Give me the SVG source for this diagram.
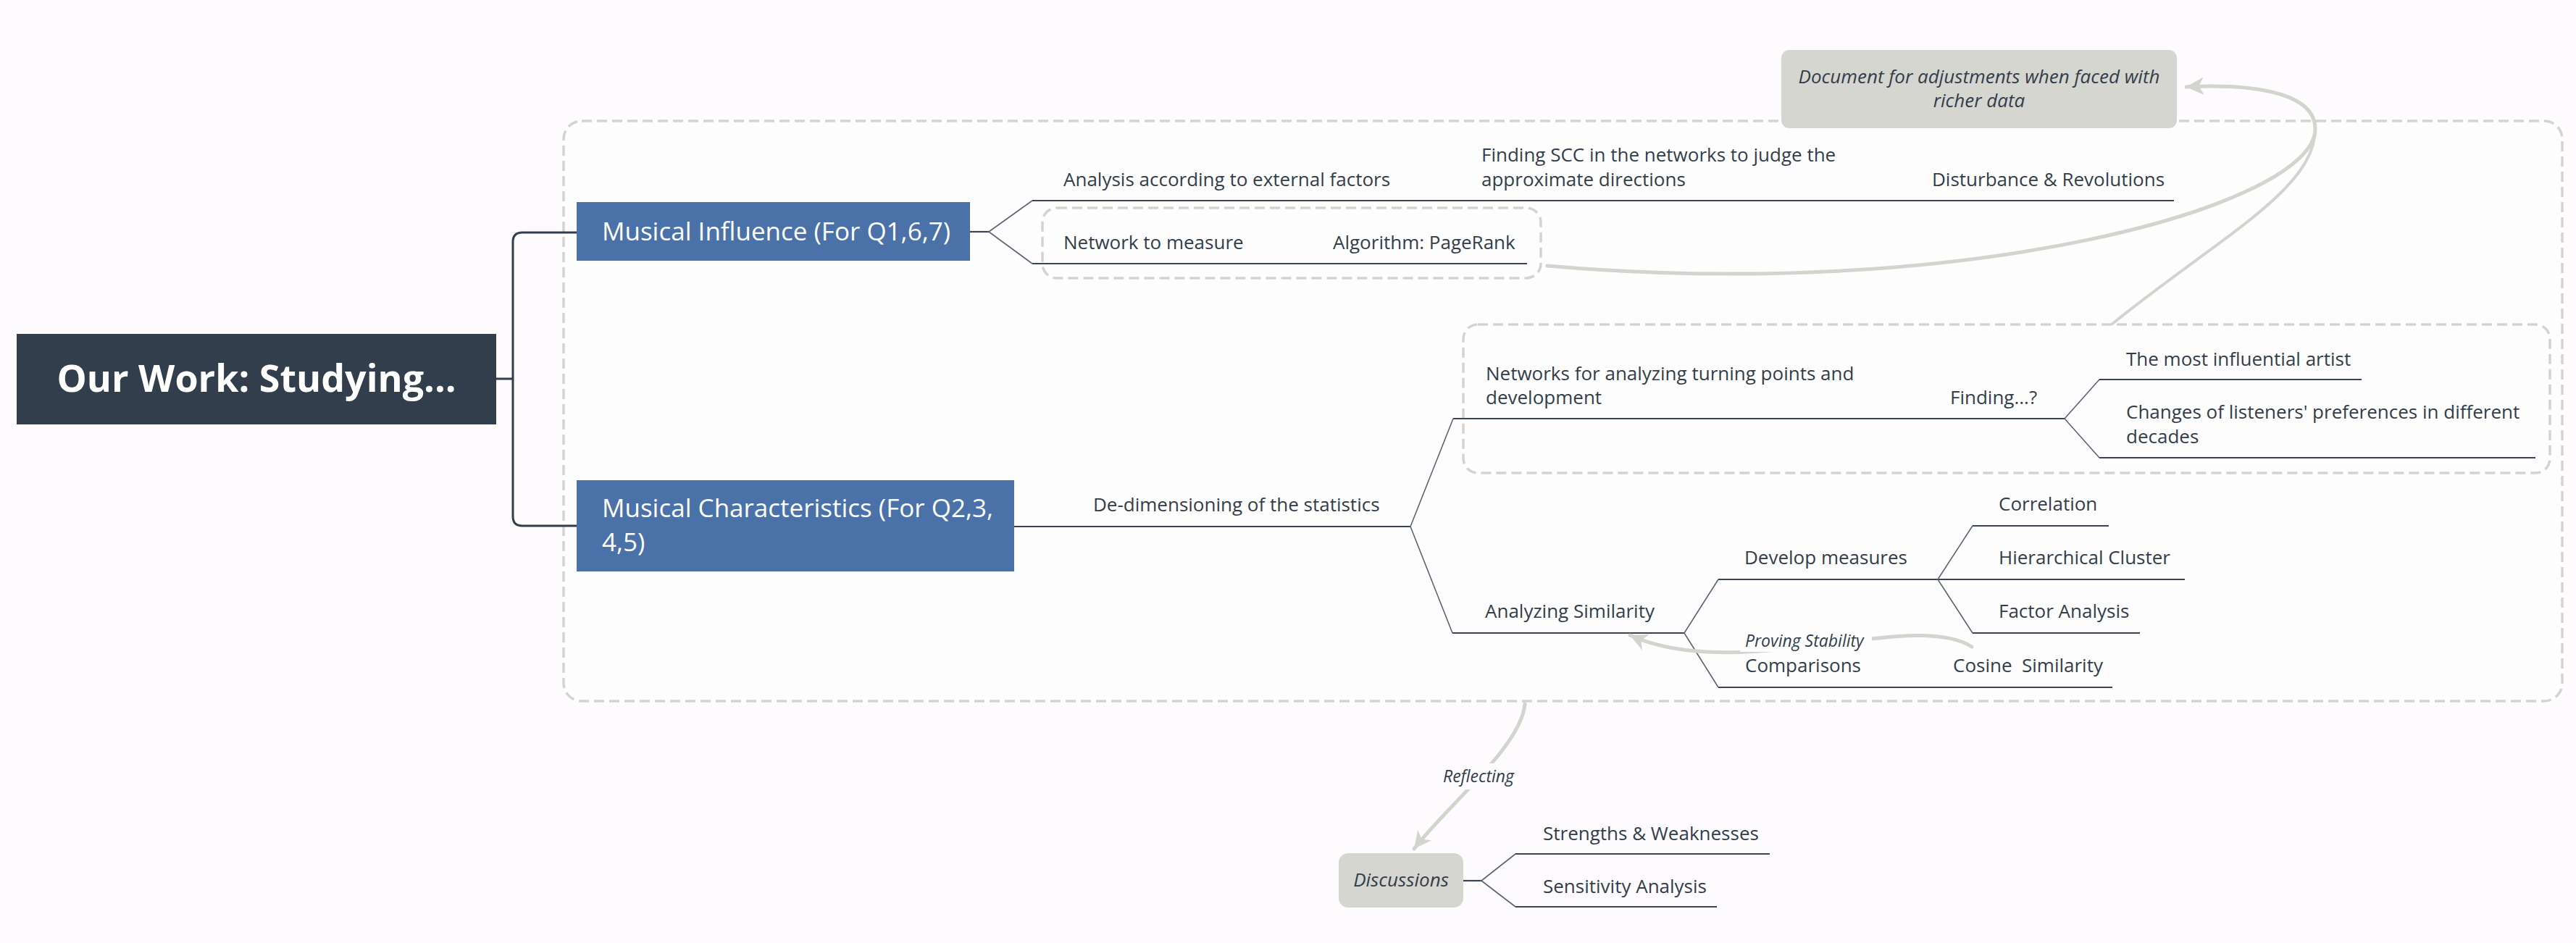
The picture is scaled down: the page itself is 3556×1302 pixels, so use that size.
<svg xmlns="http://www.w3.org/2000/svg" width="3556" height="1302" viewBox="0 0 3556 1302">
<style>
.t{font-family:"Open Sans","Noto Sans","Liberation Sans",sans-serif;font-size:26px;fill:#333d4b}
.it{font-style:italic}
.lbl{font-size:23px}
.w{fill:#ffffff;font-size:35px}
.root{fill:#ffffff;font-size:52px;font-weight:bold}
.ul{stroke:#3b4453;stroke-width:2.2;fill:none}
.br{stroke:#5d6573;stroke-width:1.6;fill:none}
.main{stroke:#333e4d;stroke-width:3;fill:none}
.bd{stroke:#d4d4cf;stroke-width:3.5;stroke-dasharray:14 7;fill:none}
.rel{stroke:#d4d4ce;stroke-width:5;fill:none;stroke-linecap:round}
.gray{fill:#d6d6d1}
</style>
<defs>
<marker id="arr" markerUnits="userSpaceOnUse" markerWidth="26" markerHeight="26" refX="24" refY="12" orient="auto" viewBox="0 0 26 24">
<path d="M0,0 L24,12 L0,24 L7,12 z" fill="#d4d4ce"/>
</marker>
<mask id="mProving" maskUnits="userSpaceOnUse" x="0" y="0" width="3556" height="1302">
<rect x="0" y="0" width="3556" height="1302" fill="#fff"/>
<rect x="2402" y="868" width="182" height="32" fill="#000"/>
</mask>
<mask id="mReflect" maskUnits="userSpaceOnUse" x="0" y="0" width="3556" height="1302">
<rect x="0" y="0" width="3556" height="1302" fill="#fff"/>
<rect x="1986" y="1054" width="112" height="36" fill="#000"/>
</mask>
</defs>
<rect x="0" y="0" width="3556" height="1302" fill="#fdfbfd"/>

<g id="boundaries">
<rect class="bd" x="778" y="167" width="2759" height="801" rx="25" style="fill:#fefdfe"/>
<rect class="bd" x="1439" y="287" width="688" height="97" rx="20"/>
<rect class="bd" x="2020" y="448" width="1500" height="205" rx="20"/>
</g>

<g id="connectors">
<path class="main" d="M685,523 H708 M796,321 H721 Q708,321 708,334 V713 Q708,726 721,726 H796"/>
<path class="ul" d="M1338,320 H1365"/>
<path class="br" d="M1365,320 L1425,277 M1365,320 L1425,364"/>
<path class="ul" d="M1425,277 H3001"/>
<path class="ul" d="M1425,364 H2108"/>
<path class="ul" d="M1399,727 H1947"/>
<path class="br" d="M1947,727 L2006,578 M1947,727 L2005,874"/>
<path class="ul" d="M2006,578 H2850"/>
<path class="br" d="M2850,578 L2898,524 M2850,578 L2898,632"/>
<path class="ul" d="M2898,524 H3260"/>
<path class="ul" d="M2898,632 H3500"/>
<path class="ul" d="M2005,874 H2325"/>
<path class="br" d="M2325,874 L2372,800 M2325,874 L2372,949"/>
<path class="ul" d="M2372,800 H3016"/>
<path class="br" d="M2675,800 L2723,726 M2675,800 L2723,874"/>
<path class="ul" d="M2723,726 H2911"/>
<path class="ul" d="M2723,874 H2954"/>
<path class="ul" d="M2372,949 H2916"/>
<path class="ul" d="M2020,1216 H2045"/>
<path class="br" d="M2045,1216 L2092,1179 M2045,1216 L2092,1252"/>
<path class="ul" d="M2092,1179 H2443"/>
<path class="ul" d="M2092,1252 H2370"/>
<path class="rel" d="M2136,367 C2720,418 3196,282 3196,178 C3196,122 3090,116 3018,120" marker-end="url(#arr)"/>
<path class="rel" style="stroke-width:4" d="M2916,447 C3060,330 3196,262 3196,178 C3196,122 3090,116 3018,120" marker-end="url(#arr)"/>
<path class="rel" mask="url(#mProving)" d="M2722,893 C2640,840 2400,945 2250,877" marker-end="url(#arr)"/>
<path class="rel" mask="url(#mReflect)" d="M2105,972 C2100,1030 2000,1110 1952,1172" marker-end="url(#arr)"/>
</g>

<g id="root">
<rect x="23" y="461" width="662" height="125" fill="#333e4d"/>
<text class="t root" x="354" y="541" text-anchor="middle">Our Work: Studying...</text>
</g>

<g id="musical-influence">
<rect x="796" y="279" width="543" height="81" fill="#4a72a8"/>
<text class="t w" x="831" y="332">Musical Influence (For Q1,6,7)</text>
</g>
<g id="musical-characteristics">
<rect x="796" y="663" width="604" height="126" fill="#4a72a8"/>
<text class="t w" x="831" y="714">Musical Characteristics (For Q2,3,</text>
<text class="t w" x="831" y="761">4,5)</text>
</g>

<g id="analysis-external"><text class="t" x="1468" y="257">Analysis according to external factors</text></g>
<g id="finding-scc"><text class="t" x="2045" y="223">Finding SCC in the networks to judge the</text><text class="t" x="2045" y="257">approximate directions</text></g>
<g id="disturbance"><text class="t" x="2667" y="257">Disturbance &amp; Revolutions</text></g>
<g id="network-measure"><text class="t" x="1468" y="344">Network to measure</text></g>
<g id="pagerank"><text class="t" x="1840" y="344">Algorithm: PageRank</text></g>

<g id="networks-turning"><text class="t" x="2051" y="525">Networks for analyzing turning points and</text><text class="t" x="2051" y="558">development</text></g>
<g id="finding-q"><text class="t" x="2692" y="558">Finding...?</text></g>
<g id="most-influential"><text class="t" x="2935" y="505">The most influential artist</text></g>
<g id="changes"><text class="t" x="2935" y="578">Changes of listeners' preferences in different</text><text class="t" x="2935" y="612">decades</text></g>

<g id="de-dimensioning"><text class="t" x="1509" y="706">De-dimensioning of the statistics</text></g>
<g id="analyzing-similarity"><text class="t" x="2050" y="853">Analyzing Similarity</text></g>
<g id="develop-measures"><text class="t" x="2408" y="779">Develop measures</text></g>
<g id="correlation"><text class="t" x="2759" y="705">Correlation</text></g>
<g id="hierarchical"><text class="t" x="2759" y="779">Hierarchical Cluster</text></g>
<g id="factor"><text class="t" x="2759" y="853">Factor Analysis</text></g>
<g id="comparisons"><text class="t" x="2409" y="928">Comparisons</text></g>
<g id="cosine"><text class="t" x="2696" y="928" xml:space="preserve" style="white-space:pre">Cosine  Similarity</text></g>

<g id="document">
<rect class="gray" x="2459" y="69" width="546" height="108" rx="11"/>
<text class="t it" x="2732" y="115" text-anchor="middle">Document for adjustments when faced with</text>
<text class="t it" x="2732" y="148" text-anchor="middle">richer data</text>
</g>

<g id="discussions">
<rect class="gray" x="1848" y="1178" width="172" height="75" rx="13"/>
<text class="t it" x="1934" y="1224" text-anchor="middle">Discussions</text>
</g>
<g id="strengths"><text class="t" x="2130" y="1160">Strengths &amp; Weaknesses</text></g>
<g id="sensitivity"><text class="t" x="2130" y="1233">Sensitivity Analysis</text></g>

<g id="relationship-labels">
<text class="t it lbl" x="2409" y="893">Proving Stability</text>
<text class="t it lbl" x="2041" y="1080" text-anchor="middle">Reflecting</text>
</g>
</svg>
